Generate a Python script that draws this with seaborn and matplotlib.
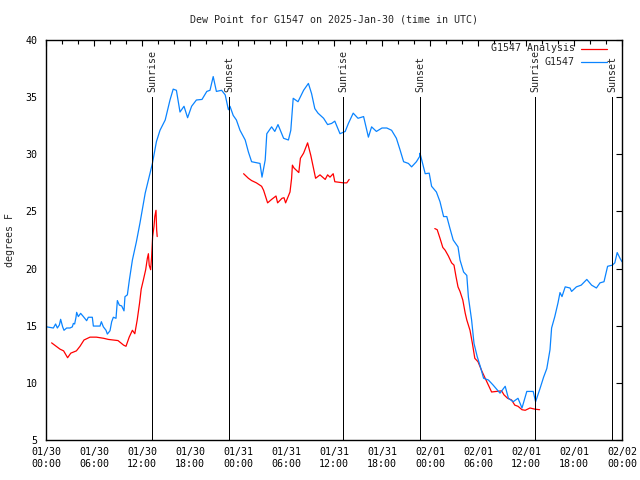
import matplotlib
matplotlib.use("Agg")
import matplotlib.pyplot as plt
import seaborn as sns
import pandas as pd

# ---- data (hours since 2025-01-30 00:00 UTC, dew point in F) ----
obs_hours = [0.0, 0.08, 0.92, 1.2, 1.42, 1.67, 1.83, 2.08, 2.25, 2.58, 3.0, 3.29, 3.42, 3.58, 3.75, 3.83,
             4.04, 4.33, 4.67, 5.08, 5.29, 5.79, 5.92, 6.75, 6.92, 7.17, 7.5, 7.67, 8.0, 8.21, 8.42,
             8.75, 8.92, 9.17, 9.46, 9.75, 9.87, 10.17, 10.42, 10.8, 11.3, 11.75, 12.4, 13.0, 13.3,
             13.8, 14.25, 14.9, 15.5, 15.9, 16.3, 16.75, 17.25, 17.7, 18.2, 18.8, 19.5, 20.1, 20.5,
             20.9, 21.3, 21.95, 22.4, 22.8, 23.0, 23.4, 23.8, 24.25, 24.9, 25.3, 25.7, 26.75, 27.0,
             27.4, 27.6, 28.2, 28.6, 29.0, 29.7, 30.3, 30.6, 30.9, 31.5, 32.2, 32.8, 33.2, 33.6,
             34.0, 34.7, 35.2, 35.7, 36.1, 36.75, 37.4, 37.8, 38.4, 39.0, 39.7, 40.3, 40.7, 41.3,
             42.0, 42.6, 43.2, 43.8, 44.25, 44.7, 45.3, 45.7, 46.3, 46.7, 46.75, 47.4, 47.9, 48.2,
             48.8, 49.25, 49.7, 50.1, 50.5, 50.9, 51.5, 51.75, 52.2, 52.6, 52.8, 53.2, 53.5, 53.9,
             54.3, 54.7, 55.3, 55.9, 56.75, 57.4, 57.8, 58.4, 59.0, 59.5, 60.1, 60.9, 61.2, 61.75,
             62.2, 62.6, 63.0, 63.2, 63.6, 64.0, 64.25, 64.5, 64.9, 65.5, 65.7, 66.3, 66.9, 67.6,
             68.2, 68.8, 69.25, 69.75, 70.2, 70.8, 71.1, 71.4, 71.75, 72.0]
obs_dewpt = [15.0, 14.9, 14.8, 15.15, 14.8, 15.06, 15.56, 14.9, 14.6, 14.8, 14.8, 14.9, 15.2, 15.15, 15.74, 16.17,
             15.8, 16.08, 15.8, 15.44, 15.74, 15.74, 14.97, 14.97, 15.35, 14.9, 14.6, 14.27, 14.56, 15.35, 15.74,
             15.65, 17.2, 16.8, 16.73, 16.3, 17.54, 17.7, 19.0, 20.75, 22.35, 24.0, 26.6, 28.35, 29.2,
             31.1, 32.1, 33.0, 34.75, 35.7, 35.6, 33.7, 34.2, 33.2, 34.2, 34.75, 34.8, 35.5, 35.6,
             36.8, 35.5, 35.6, 35.2, 33.9, 34.2, 33.4, 33.0, 32.1, 31.25, 30.2, 29.35, 29.2, 28.0,
             29.5, 31.8, 32.4, 32.0, 32.6, 31.4, 31.25, 32.1, 34.9, 34.6, 35.6, 36.2, 35.3, 34.0,
             33.6, 33.15, 32.6, 32.7, 32.9, 31.8, 32.0, 32.7, 33.6, 33.15, 33.3, 31.5, 32.4, 32.0,
             32.3, 32.3, 32.1, 31.4, 30.4, 29.35, 29.2, 28.9, 29.35, 29.8, 30.1, 28.3, 28.35, 27.2,
             26.7, 25.85, 24.55, 24.55, 23.5, 22.5, 21.9, 20.75, 19.7, 19.4, 17.5, 15.5, 13.45, 12.3,
             11.4, 10.4, 10.25, 9.8, 9.1, 9.7, 8.65, 8.35, 8.65, 7.8, 9.25, 9.25, 8.35, 9.5,
             10.5, 11.25, 12.9, 14.8, 15.8, 17.0, 17.9, 17.55, 18.4, 18.3, 18.0, 18.4, 18.55, 19.05,
             18.55, 18.3, 18.75, 18.85, 20.2, 20.3, 20.5, 21.4, 20.9, 20.6]

ana_hours = [0.7, 1.75, 2.2, 2.7, 3.1, 3.8, 4.25, 4.75, 5.5, 6.3, 7.2, 7.8, 9.0, 9.7, 10.0, 10.4, 10.8,
             11.1, 11.4, 11.7, 11.9, 12.17, 12.46, 12.67, 12.8, 12.9, 13.08, 13.2, 13.33, 13.5, 13.6,
             13.75, 13.83, 13.9,
             24.7, 25.3, 25.7, 26.3, 26.95, 27.2, 27.7, 28.2, 28.75, 28.95, 29.5, 29.75, 29.95, 30.5,
             30.7, 30.8, 31.0, 31.6, 31.8, 32.2, 32.7, 33.1, 33.4, 33.7, 34.25, 34.9, 35.2, 35.5,
             35.9, 36.1, 37.2, 37.6, 37.9,
             48.6, 48.9, 49.25, 49.6, 49.9, 50.3, 50.7, 51.0, 51.25, 51.5, 51.75, 52.1, 52.4, 52.6,
             53.0, 53.3, 53.6, 54.0, 54.5, 54.9, 55.3, 55.7, 56.3, 56.95, 57.25, 57.7, 58.2, 58.6,
             59.0, 59.5, 59.9, 60.5, 61.1, 61.7]
ana_dewpt = [13.5, 12.95, 12.8, 12.2, 12.6, 12.8, 13.2, 13.75, 14.0, 14.0, 13.9, 13.8, 13.7, 13.3, 13.2, 14.0, 14.6,
             14.3, 15.5, 17.0, 18.2, 19.0, 19.9, 20.9, 21.3, 20.3, 19.9, 21.0, 22.8, 23.7, 24.55,
             25.1, 23.4, 22.8,
             28.3, 27.9, 27.7, 27.5, 27.2, 26.85, 25.75, 26.05, 26.35, 25.75, 26.15, 26.2, 25.75, 26.7,
             27.9, 29.05, 28.8, 28.4, 29.65, 30.1, 31.0, 29.9, 28.9, 27.9, 28.2, 27.8, 28.2, 28.0,
             28.3, 27.6, 27.5, 27.5, 27.8,
             23.5, 23.4, 22.65, 21.85, 21.6, 21.1, 20.5, 20.3, 19.3, 18.4, 18.0, 17.25, 16.1, 15.5,
             14.6, 13.45, 12.15, 11.85, 11.0, 10.4, 9.8, 9.2, 9.25, 9.3, 8.95, 8.65, 8.5, 8.05,
             7.95, 7.65, 7.6, 7.8, 7.7, 7.65]
ana_segment = [1] * 34 + [2] * 33 + [3] * 34

event_hours = [13.29, 22.9, 37.17, 46.8, 61.17, 70.8]
event_labels = ["Sunrise", "Sunset", "Sunrise", "Sunset", "Sunrise", "Sunset"]

tick_hours = [0, 6, 12, 18, 24, 30, 36, 42, 48, 54, 60, 66, 72]
tick_labels = ["01/30\n00:00", "01/30\n06:00", "01/30\n12:00", "01/30\n18:00",
               "01/31\n00:00", "01/31\n06:00", "01/31\n12:00", "01/31\n18:00",
               "02/01\n00:00", "02/01\n06:00", "02/01\n12:00", "02/01\n18:00",
               "02/02\n00:00"]
y_ticks = [5, 10, 15, 20, 25, 30, 35, 40]

# ---- style ----
sns.set_style("white")
plt.rcParams["font.family"] = ["DejaVu Sans Mono"]
plt.rcParams["font.size"] = 7.2

RED = "#ff0000"
BLUE = "#0a84ff"
LW = 0.9

fig = plt.figure(figsize=(6.4, 4.8), dpi=100)
ax = fig.add_axes([46 / 640, 40 / 480, 576 / 640, 400 / 480])

obs = pd.DataFrame({"hour": obs_hours, "dewpt": obs_dewpt})
ana = pd.DataFrame({"hour": ana_hours, "dewpt": ana_dewpt, "seg": ana_segment})

sns.lineplot(data=ana, x="hour", y="dewpt", units="seg", estimator=None, sort=False,
             color=RED, linewidth=LW, ax=ax, legend=False)
sns.lineplot(data=obs, x="hour", y="dewpt", estimator=None, sort=False,
             color=BLUE, linewidth=LW, ax=ax, legend=False)

ax.vlines(event_hours, 5, 35, color="black", linewidth=0.72, antialiased=False)
for h, lab in zip(event_hours, event_labels):
    ax.text(h, 35.45, lab, rotation=90, ha="center", va="bottom", fontsize=7.2)

ax.set_xlim(0, 72)
ax.set_ylim(5, 40)
ax.set_xticks(tick_hours)
ax.set_xticklabels(tick_labels)
ax.set_xticks(list(range(0, 73, 2)), minor=True)
ax.set_yticks(y_ticks)
ax.set_xlabel("")
ax.set_ylabel("")
ax.tick_params(which="both", direction="in", top=True, right=True, color="black",
               width=0.8, labelsize=7.2, labelcolor="black")
ax.tick_params(which="major", length=4.5)
ax.tick_params(which="minor", length=3.0)
ax.tick_params(axis="x", pad=5)
ax.tick_params(axis="y", pad=6)
for s in ax.spines.values():
    s.set_color("black")
    s.set_linewidth(1.0)

# legend (gnuplot style: right-aligned text, sample line at right)
ax.text(0.918, 0.98, "G1547 Analysis", transform=ax.transAxes, ha="right", va="center")
ax.plot([0.929, 0.974], [0.978, 0.978], transform=ax.transAxes, color=RED, lw=LW)
ax.text(0.918, 0.944, "G1547", transform=ax.transAxes, ha="right", va="center")
ax.plot([0.929, 0.974], [0.944, 0.944], transform=ax.transAxes, color=BLUE, lw=LW)

fig.text(334 / 640, 1 - 19 / 480, "Dew Point for G1547 on 2025-Jan-30 (time in UTC)",
         ha="center", va="center", fontsize=7.2)
fig.text(10 / 640, 0.5, "degrees F", rotation=90, ha="center", va="center", fontsize=7.2)

fig.savefig("out.png", dpi=100)
